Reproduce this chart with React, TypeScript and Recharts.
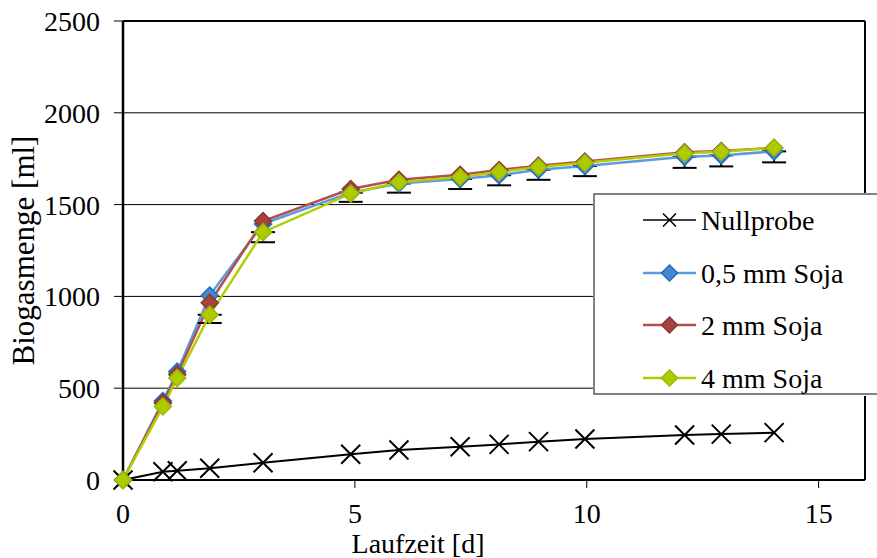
import React from 'react';
import { LineChart, Line, XAxis, YAxis, CartesianGrid, ReferenceLine, ErrorBar } from 'recharts';

const days = [0, 0.86, 1.17, 1.87, 3.02, 4.91, 5.95, 7.27, 8.11, 8.96, 9.96, 12.11, 12.9, 14.04];
const nullprobe = [0, 45, 50, 64, 94, 140, 163, 181, 194, 209, 223, 245, 250, 258];
const soja05 = [0, 430, 590, 1005, 1395, 1565, 1615, 1640, 1660, 1690, 1710, 1760, 1768, 1790];
const soja2 = [0, 420, 575, 965, 1410, 1585, 1635, 1662, 1688, 1712, 1735, 1785, 1792, 1808];
const soja4 = [0, 400, 555, 900, 1350, 1560, 1622, 1650, 1678, 1705, 1728, 1780, 1788, 1810];
// minus-direction error values (visible below the lowest series only)
const err05 = [0, 0, 0, 0, 0, 50, 50, 55, 55, 55, 55, 60, 60, 60];
const err4 = [0, 0, 0, 45, 55, 0, 0, 0, 0, 0, 0, 0, 0, 0];

const yTicks = [0, 500, 1000, 1500, 2000, 2500];
const xTicks = [0, 5, 10, 15];

const seriesNames = ['Nullprobe', '0,5 mm Soja', '2 mm Soja', '4 mm Soja'];

const data = days.map((d, i) => ({
  day: d,
  nullprobe: nullprobe[i],
  soja05: soja05[i],
  soja2: soja2[i],
  soja4: soja4[i],
  err05: err05[i] ? [err05[i], 0] : undefined,
  err4: err4[i] ? [err4[i], 0] : undefined,
}));

const FONT = 'Liberation Serif';
const FS = 28;

const COLORS = {
  blueLine: '#5b9ade',
  blueFill: '#4a86cf',
  blueEdge: '#1a6fc4',
  redLine: '#b3504d',
  redFill: '#a8423f',
  redEdge: '#8c3836',
  greenLine: '#b2cd00',
  greenFill: '#afcb00',
  greenEdge: '#9cb800',
};

const makeDiamond = (fill: string, stroke: string, r = 8.5) => (props: any) => {
  const { cx, cy, index } = props;
  if (cx == null || cy == null) return <g key={`e-${index}`} />;
  return (
    <polygon
      key={`d-${index}`}
      points={`${cx},${cy - r} ${cx + r},${cy} ${cx},${cy + r} ${cx - r},${cy}`}
      fill={fill}
      stroke={stroke}
      strokeWidth={1.5}
    />
  );
};

const makeCross = (r = 9.5) => (props: any) => {
  const { cx, cy, index } = props;
  if (cx == null || cy == null) return <g key={`e-${index}`} />;
  return (
    <path
      key={`x-${index}`}
      d={`M${cx - r},${cy - r} L${cx + r},${cy + r} M${cx - r},${cy + r} L${cx + r},${cy - r}`}
      stroke="#000"
      strokeWidth={2}
      fill="none"
    />
  );
};

const LegendBox = () => {
  const rows = [
    { name: seriesNames[0], line: '#000', kind: 'cross' },
    { name: seriesNames[1], line: COLORS.blueLine, fill: COLORS.blueFill, edge: COLORS.blueEdge, kind: 'diamond' },
    { name: seriesNames[2], line: COLORS.redLine, fill: COLORS.redFill, edge: COLORS.redEdge, kind: 'diamond' },
    { name: seriesNames[3], line: COLORS.greenLine, fill: COLORS.greenFill, edge: COLORS.greenEdge, kind: 'diamond' },
  ];
  const rowY = [27, 80, 132, 185];
  return (
    <div style={{ position: 'absolute', left: 593, top: 193, width: 284, height: 203 }}>
      <svg width={284} height={203}>
        <rect x={0} y={0} width={284} height={203} fill="#fff" />
        <path d="M285,1 H1 V201 H285" stroke="#595959" strokeWidth={1.5} fill="none" />
        {rows.map((r, i) => {
          const y = rowY[i];
          const cx = 76.5;
          return (
            <g key={r.name}>
              <line x1={50} x2={103} y1={y} y2={y} stroke={r.line} strokeWidth={r.kind === 'cross' ? 1.5 : 2.5} />
              {r.kind === 'cross' ? (
                <path d={`M${cx - 6.5},${y - 6.5} L${cx + 6.5},${y + 6.5} M${cx - 6.5},${y + 6.5} L${cx + 6.5},${y - 6.5}`} stroke="#000" strokeWidth={1.5} />
              ) : (
                <polygon points={`${cx},${y - 8} ${cx + 8},${y} ${cx},${y + 8} ${cx - 8},${y}`} fill={r.fill} stroke={r.edge} strokeWidth={1.5} />
              )}
              <text x={108} y={y} dominantBaseline="central" style={{ fontFamily: FONT, fontSize: FS }} fill="#000">
                {r.name}
              </text>
            </g>
          );
        })}
      </svg>
    </div>
  );
};

export default function App() {
  return (
    <div style={{ position: 'absolute', left: 0, top: 0, width: 877, height: 558, overflow: 'hidden', background: '#fff' }}>
      <LineChart width={877} height={558} data={data} margin={{ top: 21, right: 12, bottom: 0, left: 0 }}>
        <CartesianGrid vertical={false} stroke="#000" strokeWidth={1} />
        <XAxis
          dataKey="day"
          type="number"
          domain={[0, 16]}
          ticks={xTicks}
          height={78}
          tickSize={8}
          tickMargin={15}
          axisLine={{ stroke: '#000', strokeWidth: 2 }}
          tickLine={{ stroke: '#000', strokeWidth: 1 }}
          tick={{ fill: '#000', fontFamily: FONT, fontSize: FS }}
          label={{ value: 'Laufzeit [d]', position: 'insideBottom', offset: 5, dx: -76, style: { fill: '#000', fontFamily: FONT, fontSize: FS } }}
        />
        <YAxis
          type="number"
          domain={[0, 2500]}
          ticks={yTicks}
          width={123}
          tickSize={9}
          tickMargin={14}
          axisLine={{ stroke: '#000', strokeWidth: 2.5 }}
          tickLine={{ stroke: '#000', strokeWidth: 1 }}
          tick={{ fill: '#000', fontFamily: FONT, fontSize: FS }}
          label={{ value: 'Biogasmenge [ml]', angle: -90, position: 'insideLeft', offset: 23, style: { textAnchor: 'middle', fill: '#000', fontFamily: FONT, fontSize: 31 } }}
        />
        <ReferenceLine y={2500} stroke="#000" strokeWidth={2} />
        <ReferenceLine x={16} stroke="#000" strokeWidth={2} />
        <Line dataKey="nullprobe" stroke="#000" strokeWidth={2} dot={makeCross()} activeDot={false} isAnimationActive={false} />
        <Line dataKey="soja05" stroke={COLORS.blueLine} strokeWidth={2.5} dot={makeDiamond(COLORS.blueFill, COLORS.blueEdge)} activeDot={false} isAnimationActive={false}>
          <ErrorBar dataKey="err05" direction="y" width={12} stroke="#000" strokeWidth={2} />
        </Line>
        <Line dataKey="soja2" stroke={COLORS.redLine} strokeWidth={2.5} dot={makeDiamond(COLORS.redFill, COLORS.redEdge)} activeDot={false} isAnimationActive={false} />
        <Line dataKey="soja4" stroke={COLORS.greenLine} strokeWidth={2.5} dot={makeDiamond(COLORS.greenFill, COLORS.greenEdge)} activeDot={false} isAnimationActive={false}>
          <ErrorBar dataKey="err4" direction="y" width={12} stroke="#000" strokeWidth={2} />
        </Line>
      </LineChart>
      <LegendBox />
    </div>
  );
}
